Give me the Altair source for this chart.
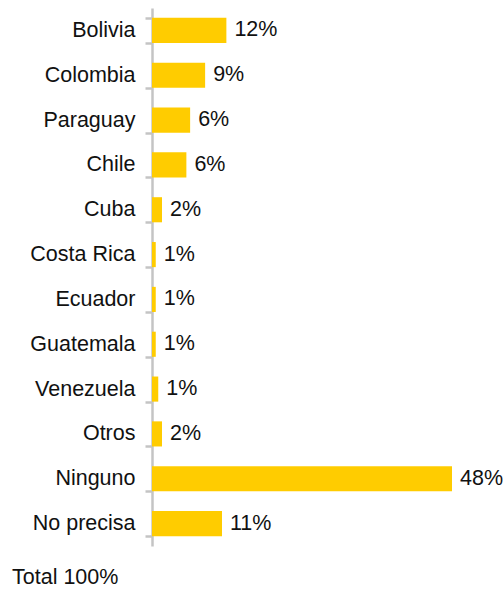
import altair as alt
import pandas as pd

paises = ["Bolivia", "Colombia", "Paraguay", "Chile", "Cuba", "Costa Rica",
          "Ecuador", "Guatemala", "Venezuela", "Otros", "Ninguno", "No precisa"]
valores = [11.9, 8.5, 6.1, 5.5, 1.6, 0.6, 0.6, 0.6, 1.0, 1.6, 48.0, 11.2]
etiquetas = ["12%", "9%", "6%", "6%", "2%", "1%", "1%", "1%", "1%", "2%", "48%", "11%"]

df = pd.DataFrame({"pais": paises, "valor": valores, "etiqueta": etiquetas})

FONT = "Liberation Sans"
FS = 21.5

y_enc = alt.Y(
    "pais:N",
    sort=paises,
    scale=alt.Scale(paddingInner=0.44, paddingOuter=0.22),
    axis=alt.Axis(
        title=None,
        tickBand="extent",
        tickSize=7,
        tickWidth=2.5,
        tickColor="#c4c4c4",
        domainColor="#c4c4c4",
        domainWidth=2.5,
        labelPadding=10,
        labelFont=FONT,
        labelFontSize=FS,
        labelColor="#111111",
        labelLimit=300,
        grid=False,
    ),
)
x_enc = alt.X("valor:Q", scale=alt.Scale(domain=[0, 50], nice=False), axis=None)

bars = alt.Chart(df).mark_bar(color="#FFCC00").encode(y=y_enc, x=x_enc)
texts = alt.Chart(df).mark_text(
    align="left", baseline="middle", dx=8, font=FONT, fontSize=FS, color="#111111"
).encode(y=alt.Y("pais:N", sort=paises), x="valor:Q", text="etiqueta:N")

chart = (
    alt.layer(bars, texts)
    .properties(
        width=312.5,
        height=538,
        autosize=alt.AutoSizeParams(type="none"),
        padding={"left": 152, "top": 8, "right": 38, "bottom": 45},
        title=alt.TitleParams(
            text="Total 100%",
            orient="bottom",
            anchor="start",
            frame="group",
            dx=-140,
            offset=21,
            baseline="top",
            font=FONT,
            fontSize=FS,
            fontWeight="normal",
            color="#111111",
        ),
    )
    .configure_view(stroke=None)
)

chart.save("out.html", embed_options={"renderer": "svg", "actions": False})
